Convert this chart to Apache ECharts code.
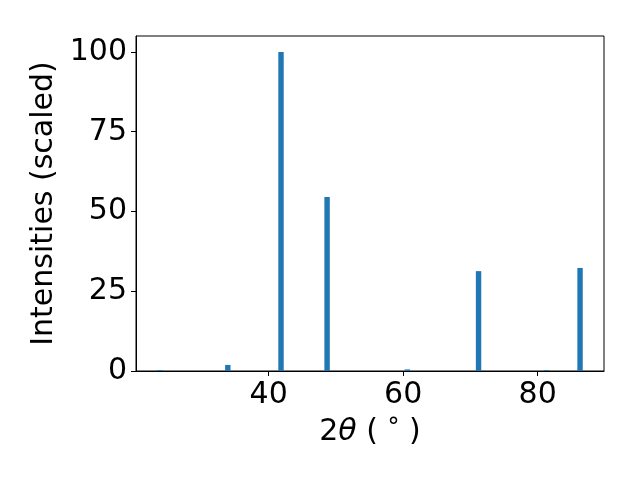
<!DOCTYPE html>
<html>
<head>
<meta charset="utf-8">
<script src="https://cdn.jsdelivr.net/npm/echarts@6/dist/echarts.min.js"></script>
<style>
  html, body { margin: 0; padding: 0; background: #fff; }
  #chart { width: 640px; height: 480px; }
</style>
</head>
<body>
<div id="chart"></div>
<script>
// peak positions (2θ, degrees) and scaled intensities
const peakPositions = [23.84, 33.93, 41.84, 48.69, 60.62, 71.21, 81.3, 86.3]
const intensities = [0.3, 1.9, 100, 54.5, 0.5, 31.3, 0.3, 32.3]
const xTicks = [40, 60, 80]
const yTicks = [0, 25, 50, 75, 100]

const chart = echarts.init(document.getElementById('chart'))

const fontFamily = 'DejaVu Sans'
const black = '#000'

chart.setOption({
  animation: false,
  backgroundColor: '#fff',
  textStyle: { fontFamily },
  grid: {
    left: 136, right: 36, top: 36, bottom: 109,
    show: true, borderColor: black, borderWidth: 1, backgroundColor: 'transparent',
  },
  xAxis: {
    type: 'value',
    min: 20.28,
    max: 89.86,
    name: '2{i|θ} ( {s|°} )',
    nameLocation: 'middle',
    nameGap: 46,
    nameTextStyle: {
      fontSize: 30, color: black, fontFamily,
      rich: {
        i: { fontSize: 30, fontStyle: 'italic', color: black, fontFamily },
        s: { fontSize: 24, color: black, fontFamily, verticalAlign: 'top' },
      },
    },
    axisLine: { onZero: false, lineStyle: { color: black, width: 1 } },
    axisTick: { show: true, length: 5, customValues: xTicks, lineStyle: { color: black } },
    axisLabel: { customValues: xTicks, fontSize: 30, color: black, margin: 9, fontFamily },
    splitLine: { show: false },
  },
  yAxis: {
    type: 'value',
    min: 0,
    max: 105,
    name: 'Intensities (scaled)',
    nameLocation: 'middle',
    nameRotate: 90,
    nameGap: 72,
    nameTextStyle: { fontSize: 30, color: black, fontFamily },
    axisLine: { show: true, lineStyle: { color: black, width: 1 } },
    axisTick: { show: true, length: 5, customValues: yTicks, lineStyle: { color: black } },
    axisLabel: { customValues: yTicks, fontSize: 30, color: black, margin: 9, fontFamily },
    splitLine: { show: false },
  },
  series: [{
    type: 'bar',
    barWidth: 5.4,
    itemStyle: { color: '#1f77b4' },
    data: peakPositions.map((x, i) => [x, intensities[i]]),
  }],
})
</script>
</body>
</html>
